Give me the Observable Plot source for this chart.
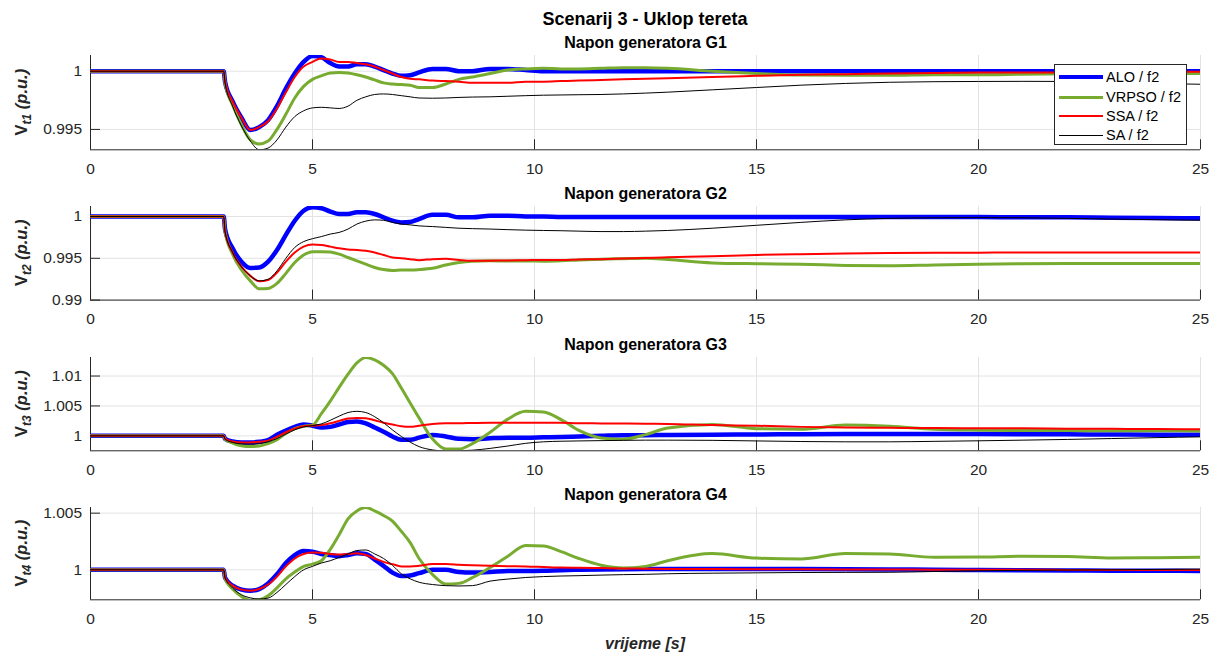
<!DOCTYPE html>
<html>
<head>
<meta charset="utf-8">
<script src="https://cdn.jsdelivr.net/npm/d3@7"></script>
<script src="https://cdn.jsdelivr.net/npm/@observablehq/plot@0.6"></script>
<style>
html,body{margin:0;padding:0;background:#fff;}
#fig{position:relative;width:1218px;height:655px;overflow:hidden;font-family:"Liberation Sans",Arial,sans-serif;background:#fff;}
#fig svg{position:absolute;left:0;overflow:visible;}
.legend{position:absolute;left:1054px;top:64px;width:133px;height:81px;box-sizing:border-box;border:1px solid #262626;background:#fff;}
.legend .row{position:absolute;left:0;height:20px;width:100%;}
.legend .sw{position:absolute;left:4px;width:44px;}
.legend .lab{position:absolute;left:51px;top:0;line-height:20px;font-size:14.5px;color:#000;white-space:nowrap;}
</style>
</head>
<body>
<div id="fig"></div>
<script>
// ---------------- data ----------------
const time = [0, 3, 3.03, 3.2, 3.4, 3.6, 3.8, 4.0, 4.2, 4.4,
  4.6, 4.8, 5.0, 5.2, 5.4, 5.6, 5.8, 6.0, 6.2, 6.4,
  6.6, 6.8, 7.0, 7.2, 7.4, 7.7, 8.0, 8.3, 8.6, 9.0,
  9.4, 9.8, 10.2, 10.6, 11, 11.5, 12, 12.5, 13, 14,
  15, 16, 17, 18, 19, 20, 21, 22, 23, 24,
  25];

const seriesNames = ["ALO / f2", "VRPSO / f2", "SSA / f2", "SA / f2"];
const panelTitles = ["Napon generatora G1", "Napon generatora G2", "Napon generatora G3", "Napon generatora G4"];
const yLabelSubs = ["t1", "t2", "t3", "t4"];
const xTicks = [0, 5, 10, 15, 20, 25];
const yTicksG1 = [0.995, 1];
const yTicksG2 = [0.99, 0.995, 1];
const yTicksG3 = [1, 1.005, 1.01];
const yTicksG4 = [1, 1.005];

const G1_ALO = [1, 1, 0.9991, 0.9974, 0.9960, 0.99495, 0.9952, 0.9958, 0.9970, 0.9985,
  0.9998, 1.0008, 1.0013, 1.0012, 1.0007, 1.0004, 1.0004, 1.0006, 1.0006, 1.0004,
  1.0001, 0.9998, 0.9996, 0.99965, 0.9999, 1.0002, 1.0002, 1.0000, 1.0000, 1.0002,
  1.0002, 1.0001, 1.0000, 1.0000, 1.0000, 1.0000, 1.0000, 1.0000, 1.0000, 1.0000,
  1.0000, 1.0000, 1.0000, 1.0000, 1.0000, 1.0000, 1.0000, 1.0000, 1.0000, 1.0000,
  1.0000];
const G1_VRPSO = [1, 1, 0.9990, 0.9971, 0.9954, 0.9941, 0.99375, 0.9940, 0.9950, 0.9963,
  0.9977, 0.9987, 0.9993, 0.9996, 0.99985, 0.9999, 0.99985, 0.9997, 0.9995, 0.99925,
  0.9990, 0.9989, 0.99885, 0.9988, 0.9986, 0.9986, 0.9989, 0.9993, 0.9995, 0.9998,
  1.0001, 1.0002, 1.00025, 1.0002, 1.0002, 1.00025, 1.0003, 1.0003, 1.00025, 1.0000,
  0.9998, 0.99967, 0.99965, 0.99965, 0.9997, 0.9997, 0.99975, 0.99978, 0.9998, 0.9998,
  0.9998];
const G1_SSA = [1, 1, 0.9991, 0.9974, 0.9960, 0.99495, 0.9952, 0.9957, 0.9968, 0.9982,
  0.9995, 1.0004, 1.0008, 1.0011, 1.0010, 1.0008, 1.0008, 1.0007, 1.0006, 1.0004,
  1.0001, 0.9998, 0.9995, 0.99935, 0.9993, 0.9992, 0.99915, 0.9991, 0.9990, 0.9990,
  0.9990, 0.9991, 0.9991, 0.99915, 0.9992, 0.99925, 0.9993, 0.99935, 0.9994, 0.9995,
  0.9996, 0.9997, 0.99975, 0.9998, 0.99985, 0.9999, 0.9999, 0.9999, 0.99995, 0.99995,
  0.99995];
const G1_SA = [1, 1, 0.9990, 0.9970, 0.9953, 0.9940, 0.99325, 0.9934, 0.9941, 0.9952,
  0.9961, 0.9966, 0.99685, 0.9969, 0.99685, 0.9968, 0.9970, 0.9975, 0.9978, 0.9980,
  0.99805, 0.9980, 0.9979, 0.9978, 0.9977, 0.99768, 0.9977, 0.99775, 0.99778, 0.9978,
  0.99785, 0.9979, 0.99794, 0.99796, 0.99798, 0.9980, 0.99805, 0.99812, 0.9982, 0.9984,
  0.9986, 0.9988, 0.99895, 0.99905, 0.9991, 0.99912, 0.99913, 0.99912, 0.99905, 0.99895,
  0.99888];

const G2_ALO = [1, 1, 0.9985, 0.9962, 0.9946, 0.99385, 0.9939, 0.9946, 0.9960, 0.9978,
  0.9995, 1.0007, 1.0011, 1.0010, 1.0006, 1.0003, 1.0003, 1.0005, 1.0005, 1.0003,
  0.9999, 0.9995, 0.9993, 0.99935, 0.9997, 1.0002, 1.0002, 0.9999, 0.9999, 1.0001,
  1.0001, 1.0000, 1.0000, 0.99995, 0.99995, 0.99995, 0.99995, 0.99995, 0.99995, 0.99995,
  0.99995, 0.99995, 0.99995, 0.99995, 0.99995, 0.99995, 0.9999, 0.9999, 0.99985, 0.99982,
  0.9998];
const G2_VRPSO = [1, 1, 0.9982, 0.9955, 0.9936, 0.9923, 0.99135, 0.9914, 0.9920, 0.9932,
  0.9945, 0.9954, 0.9958, 0.9958, 0.99575, 0.9955, 0.9951, 0.9947, 0.9943, 0.9939,
  0.99365, 0.99355, 0.9936, 0.9936, 0.99365, 0.9938, 0.9942, 0.9945, 0.99465, 0.9947,
  0.99468, 0.99468, 0.99465, 0.9947, 0.9948, 0.9949, 0.99495, 0.995, 0.99485, 0.99445,
  0.99435, 0.9943, 0.99415, 0.9941, 0.9942, 0.9943, 0.99435, 0.99437, 0.99437, 0.99437,
  0.99437];
const G2_SSA = [1, 1, 0.9982, 0.9957, 0.9940, 0.9929, 0.99225, 0.9924, 0.9933, 0.9946,
  0.9957, 0.9964, 0.99665, 0.9966, 0.9964, 0.9962, 0.99605, 0.9960, 0.9959, 0.9957,
  0.9954, 0.9951, 0.9950, 0.9949, 0.99478, 0.9949, 0.99495, 0.9948, 0.9947, 0.99472,
  0.99475, 0.99477, 0.9948, 0.9948, 0.99485, 0.9949, 0.99497, 0.99505, 0.99512, 0.99525,
  0.9954, 0.9955, 0.99558, 0.99563, 0.99566, 0.99568, 0.9957, 0.9957, 0.9957, 0.9957,
  0.9957];
const G2_SA = [1, 1, 0.9982, 0.9957, 0.9940, 0.9929, 0.9923, 0.9925, 0.9935, 0.9950,
  0.9963, 0.9970, 0.99735, 0.9976, 0.9979, 0.9981, 0.9985, 0.9991, 0.99945, 0.9996,
  0.99955, 0.9993, 0.9991, 0.9990, 0.99888, 0.9988, 0.9987, 0.9986, 0.99855, 0.9985,
  0.99843, 0.99837, 0.99833, 0.9983, 0.99825, 0.9982, 0.9982, 0.99825, 0.99833, 0.9986,
  0.99895, 0.9993, 0.9996, 0.99978, 0.99985, 0.99987, 0.99985, 0.99978, 0.9997, 0.99962,
  0.99955];

const G3_ALO = [1, 1, 0.9995, 0.99905, 0.9989, 0.9989, 0.9990, 0.9993, 1.0002, 1.0009,
  1.0015, 1.0019, 1.0017, 1.0014, 1.0015, 1.0019, 1.0023, 1.0024, 1.0021, 1.0014,
  1.0007, 0.9999, 0.99935, 0.99935, 0.9997, 1.00015, 0.9999, 0.9995, 0.99945, 0.9996,
  0.9997, 0.9997, 0.99975, 0.9998, 0.9999, 1.0000, 1.0001, 1.00012, 1.00015, 1.0002,
  1.00022, 1.00028, 1.0003, 1.0003, 1.0003, 1.0003, 1.00028, 1.00025, 1.00023, 1.0002,
  1.0002];
const G3_VRPSO = [1, 1, 0.9994, 0.9988, 0.99835, 0.9982, 0.9983, 0.9987, 0.99935, 1.0004,
  1.0012, 1.0016, 1.0018, 1.0037, 1.0058, 1.0081, 1.0103, 1.0122, 1.0131, 1.0127,
  1.0118, 1.0104, 1.0080, 1.0055, 1.0030, 0.9995, 0.9978, 0.9978, 0.9987, 1.0006,
  1.0028, 1.0041, 1.0040, 1.0027, 1.0009, 0.99965, 0.99945, 1.0002, 1.0013, 1.0019,
  1.0012, 1.0011, 1.0018, 1.0016, 1.0011, 1.00095, 1.0009, 1.00088, 1.00086, 1.00084,
  1.00083];
const G3_SSA = [1, 1, 0.9995, 0.99905, 0.9989, 0.9989, 0.9990, 0.9992, 0.99985, 1.0006,
  1.0012, 1.0016, 1.0017, 1.0018, 1.0021, 1.0025, 1.0029, 1.0030, 1.00295, 1.0026,
  1.0022, 1.0019, 1.0016, 1.0015, 1.0017, 1.0020, 1.0021, 1.0021, 1.00215, 1.0022,
  1.0022, 1.0022, 1.0022, 1.00218, 1.0021, 1.00208, 1.00205, 1.00202, 1.0020, 1.0018,
  1.0017, 1.0015, 1.0014, 1.00135, 1.0013, 1.00128, 1.00125, 1.0012, 1.00117, 1.00113,
  1.0011];
const G3_SA = [1, 1, 0.99945, 0.9989, 0.99865, 0.9986, 0.9987, 0.9990, 0.99955, 1.0003,
  1.0010, 1.0015, 1.0017, 1.0020, 1.0026, 1.0033, 1.0039, 1.0041, 1.0039, 1.0032,
  1.0022, 1.0010, 0.9999, 0.99895, 0.9982, 0.99765, 0.99745, 0.9975, 0.9976, 0.9979,
  0.9983, 0.99875, 0.9990, 0.9991, 0.99915, 0.9992, 0.99925, 0.99928, 0.99928, 0.99925,
  0.99915, 0.99905, 0.9990, 0.9990, 0.99908, 0.99917, 0.99928, 0.9994, 0.99955, 0.9997,
  0.99983];

const G4_ALO = [1, 1, 0.9993, 0.9986, 0.99825, 0.99815, 0.9983, 0.9988, 0.9996, 1.0006,
  1.0013, 1.00165, 1.0016, 1.0014, 1.0013, 1.0012, 1.0013, 1.00145, 1.0014, 1.0009,
  1.00035, 0.99975, 0.99945, 0.9995, 0.9997, 1.0000, 1.0000, 0.9998, 0.99975, 0.9998,
  0.9999, 0.9999, 0.99992, 0.99997, 1.0000, 1.00003, 1.00005, 1.00006, 1.00006, 1.00006,
  1.00006, 1.00006, 1.00005, 1.00003, 1.0000, 0.99998, 0.99996, 0.99994, 0.99992, 0.99991,
  0.9999];
const G4_VRPSO = [1, 1, 0.9992, 0.9983, 0.99765, 0.9973, 0.99735, 0.9977, 0.9984, 0.9992,
  0.9998, 1.0003, 1.0005, 1.0008, 1.0018, 1.0031, 1.0045, 1.0052, 1.0055, 1.0052,
  1.0048, 1.0043, 1.0034, 1.0024, 1.0010, 0.9996, 0.99875, 0.9988, 0.9993, 1.0002,
  1.0012, 1.00215, 1.0021, 1.0016, 1.0010, 1.0004, 1.00015, 1.0003, 1.0008, 1.00143,
  1.00103, 1.00095, 1.00143, 1.0014, 1.0011, 1.00112, 1.0012, 1.00118, 1.00105, 1.00107,
  1.0011];
const G4_SSA = [1, 1, 0.9993, 0.9986, 0.99825, 0.99815, 0.9983, 0.9987, 0.9994, 1.0003,
  1.0010, 1.0014, 1.00153, 1.0015, 1.0014, 1.00135, 1.0014, 1.00145, 1.0013, 1.0010,
  1.0007, 1.0005, 1.0003, 1.0003, 1.00035, 1.0005, 1.0005, 1.00045, 1.0004, 1.00035,
  1.00032, 1.0003, 1.00025, 1.0002, 1.00018, 1.00015, 1.00012, 1.0001, 1.00008, 1.00006,
  1.00005, 1.00004, 1.00003, 1.00002, 1.00001, 1.0000, 1.0000, 0.99999, 0.99999, 0.99998,
  0.99998];
const G4_SA = [1, 1, 0.9993, 0.9984, 0.9978, 0.99752, 0.99742, 0.9975, 0.9980, 0.9987,
  0.9994, 1.0000, 1.0003, 1.0006, 1.0008, 1.0011, 1.0014, 1.0017, 1.00175, 1.0014,
  1.0010, 1.0004, 0.99965, 0.9992, 0.9989, 0.9987, 0.9986, 0.99857, 0.9986, 0.9990,
  0.99918, 0.99932, 0.9994, 0.99945, 0.99948, 0.99953, 0.99957, 0.9996, 0.99965, 0.9997,
  0.99973, 0.99976, 0.99977, 0.99978, 0.99985, 0.99991, 0.99995, 0.99998, 1.0000, 1.00003,
  1.00006];

// ---------------- drawing ----------------
const panels = [
  {title: panelTitles[0], sub: yLabelSubs[0], ticks: yTicksG1, domain: [0.99325, 1.00135], series: [G1_ALO, G1_VRPSO, G1_SSA, G1_SA]},
  {title: panelTitles[1], sub: yLabelSubs[1], ticks: yTicksG2, domain: [0.99, 1.0012], series: [G2_ALO, G2_VRPSO, G2_SSA, G2_SA]},
  {title: panelTitles[2], sub: yLabelSubs[2], ticks: yTicksG3, domain: [0.9975, 1.0131], series: [G3_ALO, G3_VRPSO, G3_SSA, G3_SA]},
  {title: panelTitles[3], sub: yLabelSubs[3], ticks: yTicksG4, domain: [0.99735, 1.0055], series: [G4_ALO, G4_VRPSO, G4_SSA, G4_SA]}
];
const lineStyles = [
  {stroke: "#0000ff", width: 4.5},
  {stroke: "#77ac30", width: 3},
  {stroke: "#ff0000", width: 2},
  {stroke: "#000000", width: 1}
];
const axTop = [55, 205.7, 356.7, 506.7];
const axH = [94.3, 93.6, 93.3, 92.3];
const W = 1218, ML = 90, MR = 18;
const axisColor = "#262626";
const fig = document.getElementById("fig");

panels.forEach((p, i) => {
  const mt = i === 0 ? 55 : 40;
  const mb = i === 3 ? 60 : 35;
  const h = axH[i];
  const [y0, y1] = p.domain;
  const tickLenY = (y1 - y0) * 10 / h;
  const tickLenX = 25 * 10 / (W - ML - MR);
  const fmt = d => String(+d.toFixed(4));

  const marks = [
    Plot.gridX(xTicks, {stroke: "#e3e3e3", strokeOpacity: 1}),
    Plot.gridY(p.ticks, {stroke: "#e3e3e3", strokeOpacity: 1}),
    Plot.ruleX([0], {stroke: axisColor}),
    Plot.ruleY([y0], {stroke: axisColor}),
    Plot.ruleX(xTicks, {x: d => d, y1: y0, y2: y0 + tickLenY, stroke: axisColor}),
    Plot.ruleY(p.ticks, {y: d => d, x1: 0, x2: tickLenX, stroke: axisColor}),
    Plot.axisX(xTicks, {tickSize: 0, tickPadding: 13, label: null, fill: axisColor}),
    Plot.axisY(p.ticks, {tickSize: 0, tickPadding: 8.5, tickFormat: fmt, label: null, fill: axisColor}),
    ...p.series.map((vals, j) => Plot.line(vals, {
      x: time, y: d => d,
      stroke: lineStyles[j].stroke, strokeWidth: lineStyles[j].width,
      curve: "monotone-x", strokeLinejoin: "round", clip: true
    })),
    Plot.text([p.title], {frameAnchor: "top", dy: -7.4, lineAnchor: "bottom", fontWeight: "bold", fontSize: 16, fill: "#000"})
  ];

  const svg = Plot.plot({
    width: W, height: mt + h + mb,
    marginLeft: ML, marginRight: MR, marginTop: mt, marginBottom: mb,
    x: {domain: [0, 25]},
    y: {domain: [y0, y1]},
    style: {background: "transparent", fontFamily: '"Liberation Sans", Arial, sans-serif', fontSize: "15.5px", color: axisColor, overflow: "visible"},
    marks
  });
  svg.style.top = (axTop[i] - mt) + "px";
  svg.style.position = "absolute";
  svg.style.left = "0px";

  const s = d3.select(svg);
  const yl = s.append("text")
    .attr("transform", `translate(26.5,${mt + h / 2}) rotate(-90)`)
    .attr("text-anchor", "middle")
    .attr("font-weight", "bold")
    .attr("font-size", 16.5)
    .attr("fill", axisColor);
  yl.append("tspan").text("V");
  yl.append("tspan").attr("font-style", "italic").attr("font-size", 12).attr("dy", 4.5).text(p.sub);
  yl.append("tspan").attr("font-style", "italic").attr("dy", -4.5).text(" (p.u.)");

  if (i === 0) {
    s.append("text").attr("x", 645).attr("y", 25).attr("text-anchor", "middle")
      .attr("font-weight", "bold").attr("font-size", 18).attr("fill", "#000")
      .text("Scenarij 3 - Uklop tereta");
  }
  if (i === 3) {
    s.append("text").attr("x", 645).attr("y", 648.5 - (axTop[i] - mt)).attr("text-anchor", "middle")
      .attr("font-weight", "bold").attr("font-style", "italic").attr("font-size", 16).attr("fill", axisColor)
      .text("vrijeme [s]");
  }
  fig.appendChild(svg);
});

// legend
const lg = document.createElement("div");
lg.className = "legend";
const rowCenters = [13, 33, 52, 71];
seriesNames.forEach((name, j) => {
  const row = document.createElement("div");
  row.className = "row";
  row.style.top = (rowCenters[j] - 10 - 1) + "px";
  const sw = document.createElement("div");
  sw.className = "sw";
  sw.style.height = lineStyles[j].width + "px";
  sw.style.top = (10 - lineStyles[j].width / 2) + "px";
  sw.style.background = lineStyles[j].stroke;
  const lab = document.createElement("span");
  lab.className = "lab";
  lab.textContent = name;
  row.appendChild(sw);
  row.appendChild(lab);
  lg.appendChild(row);
});
fig.appendChild(lg);
</script>
</body>
</html>
